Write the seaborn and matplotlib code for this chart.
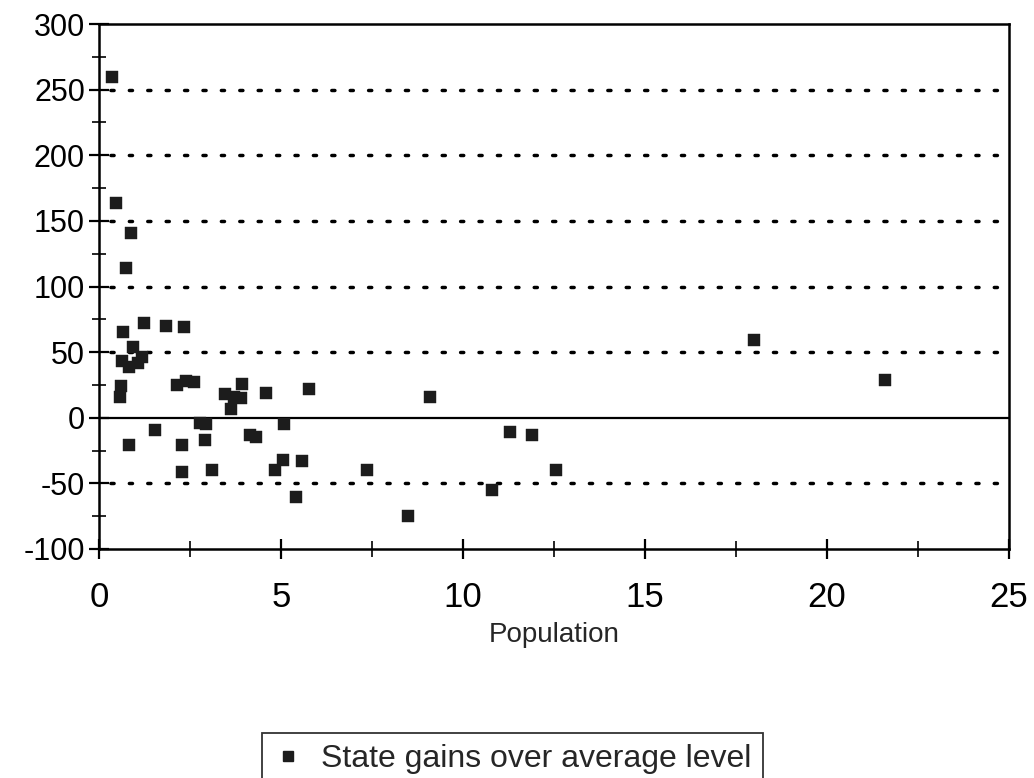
import matplotlib
matplotlib.use("Agg")
import matplotlib.pyplot as plt
from matplotlib.ticker import MultipleLocator
import numpy as np
import pandas as pd
import seaborn as sns

# State population (millions) against gain over the average level
population = [0.35, 0.46, 0.88, 0.73, 1.23, 0.66, 1.83, 2.33, 0.93, 0.63,
              0.82, 1.07, 1.18, 0.60, 0.58, 2.15, 2.38, 2.60, 3.94, 3.47,
              3.70, 3.91, 3.64, 4.60, 5.77, 2.78, 2.93, 5.07, 1.54, 4.14,
              4.30, 0.82, 2.28, 2.90, 5.06, 5.57, 2.28, 3.10, 4.83, 7.36,
              5.40, 9.10, 11.30, 11.90, 12.55, 10.80, 8.50, 18.00, 21.60]
gains = [260, 164, 141, 114, 72, 65, 70, 69, 54, 43,
         39, 42, 46, 24, 16, 25, 28, 27, 26, 18,
         15.5, 15, 7, 19, 22, -4, -5, -5, -9, -13,
         -15, -21, -21, -17, -32, -33, -41, -40, -40, -40,
         -60, 16, -11, -13, -40, -55, -75, 59, 29]

series_label = "State gains over average level"
x_major = [0, 5, 10, 15, 20, 25]
y_major = [-100, -50, 0, 50, 100, 150, 200, 250, 300]

df = pd.DataFrame({"Population": population, "Gain": gains})

sns.set_style("white")
plt.rcParams["font.family"] = ["Liberation Sans", "DejaVu Sans"]
plt.rcParams["axes.unicode_minus"] = False

fig = plt.figure(figsize=(10.34, 7.78), dpi=100)
ax = fig.add_axes([99 / 1034, 1 - 549 / 778, 910 / 1034, 525 / 778])

# dotted reference lines at each labelled level, solid line at zero
for yv in y_major[1:-1]:
    if yv == 0:
        ax.axhline(0, color="black", lw=1.6, zorder=1)
    else:
        ax.axhline(yv, color="black", lw=2.5, ls=(2, (0.9, 4.4)),
                   dash_capstyle="round", zorder=1)

sns.scatterplot(data=df, x="Population", y="Gain", marker="s", s=68,
                color="#1c1c1c", edgecolor="#1c1c1c", linewidth=0.3,
                ax=ax, label=series_label, legend=False, zorder=3)

ax.set_xlim(0, 25)
ax.set_ylim(-100, 300)
ax.set_xticks(x_major)
ax.set_yticks(y_major)
ax.xaxis.set_minor_locator(MultipleLocator(2.5))
ax.yaxis.set_minor_locator(MultipleLocator(25))

ax.tick_params(axis="x", which="both", bottom=True, top=False)
ax.tick_params(axis="y", which="both", left=True, right=False)
ax.tick_params(axis="x", which="major", direction="inout", length=14,
               width=1.6, labelsize=25, pad=16, colors="black")
ax.tick_params(axis="x", which="minor", direction="inout", length=11,
               width=1.4)
ax.tick_params(axis="y", which="major", direction="inout", length=14,
               width=1.6, labelsize=22, pad=3, colors="black")
ax.tick_params(axis="y", which="minor", direction="inout", length=10,
               width=1.4)

for side in ["left", "bottom", "top", "right"]:
    ax.spines[side].set_visible(True)
    ax.spines[side].set_color("black")
    ax.spines[side].set_linewidth(1.8)

ax.set_xlabel("Population", fontsize=20, labelpad=6)
ax.set_ylabel("")

handle = plt.Line2D([], [], marker="s", ls="none", color="#1c1c1c",
                    markersize=6.5)
leg = fig.legend([handle], [series_label], loc="upper left",
                 bbox_to_anchor=(262 / 1034, 1 - 733 / 778),
                 frameon=True, fancybox=False, fontsize=23,
                 borderpad=0.35, handletextpad=0.6, handlelength=0.9,
                 borderaxespad=0)
leg.get_frame().set_edgecolor("black")
leg.get_frame().set_linewidth(1.3)

fig.savefig("out.png", dpi=100, facecolor="white")
